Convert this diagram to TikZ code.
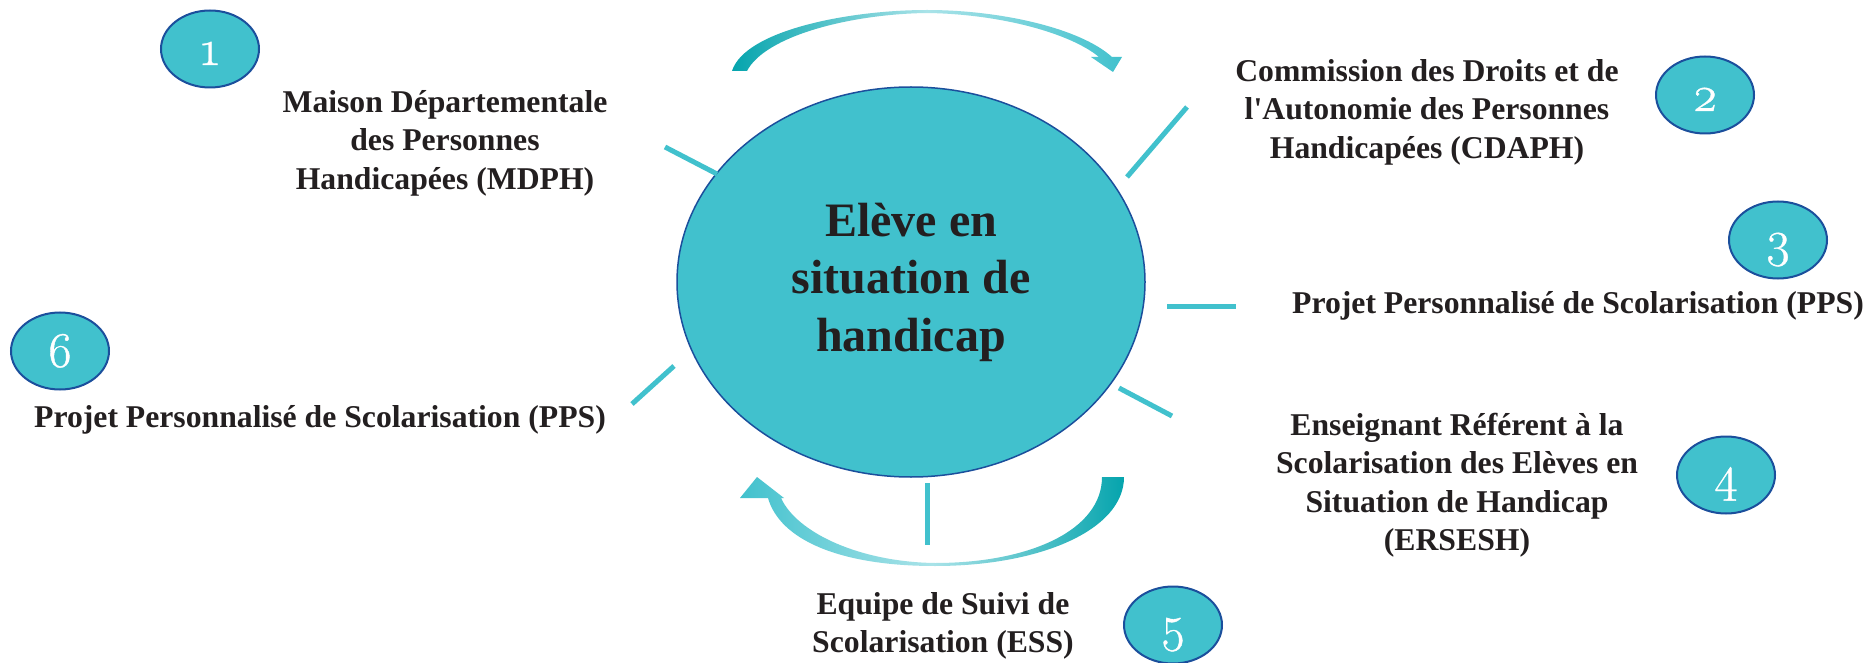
\documentclass[tikz,border=0pt]{standalone}
\usepackage{fontspec}
\setmainfont{Liberation Serif}[Ligatures=TeXOff]
\newfontfamily\numfont[Numbers=OldStyle,FakeBold=0.8]{Latin Modern Roman}
\usetikzlibrary{shapes.geometric}
\definecolor{tlight}{HTML}{41C1CD}
\definecolor{tdark}{HTML}{05A4AD}
\definecolor{bord}{HTML}{1B4F9C}
\definecolor{txt}{HTML}{231F20}
\begin{document}
\begin{tikzpicture}[x=1pt,y=-1pt,
  numbub/.style={ellipse, draw=bord, line width=2pt, fill=tlight, minimum width=98pt, minimum height=77pt,
    inner sep=0pt, text=white, font=\numfont\fontsize{50}{50}\selectfont, text height=32pt, text depth=0pt},
  lbl/.style={align=center, inner sep=0pt, text=txt, font=\bfseries\fontsize{31.7}{38.5}\selectfont},
  spoke/.style={draw=tlight, line width=5pt}
]
\fill[white] (0,0) rectangle (1872,663);
\useasboundingbox (0,0) rectangle (1872,663);

% central ellipse
\node[ellipse, draw=bord, line width=1.5pt, fill=tlight, minimum width=468pt, minimum height=390pt,
  inner sep=0pt, align=center, text=txt, font=\bfseries\fontsize{48}{57.5}\selectfont]
  (centre) at (911,282) {Elève en\\situation de\\handicap};

% number bubbles
\node[numbub] (n1) at (210,49) {1};
\node[numbub] (n2) at (1705,95) {2};
\node[numbub] (n3) at (1778,240) {3};
\node[numbub] (n4) at (1726,475) {4};
\node[numbub] (n5) at (1173,625) {5};
\node[numbub] (n6) at (60,351) {6};

% labels
\node[lbl] (l1) at (445,143) {Maison Départementale\\des Personnes\\Handicapées (MDPH)};
\node[lbl] (l2) at (1427,112) {Commission des Droits et de\\l'Autonomie des Personnes\\Handicapées (CDAPH)};
\node[lbl] (l3) at (1578,306) {Projet Personnalisé de Scolarisation (PPS)};
\node[lbl] (l4) at (1457,485) {Enseignant Référent à la\\Scolarisation des Elèves en\\Situation de Handicap\\(ERSESH)};
\node[lbl] (l5) at (943,626) {Equipe de Suivi de\\Scolarisation (ESS)};
\node[lbl] (l6) at (320,420) {Projet Personnalisé de Scolarisation (PPS)};

% spokes
\coordinate (s1a) at (665,147); \coordinate (s1b) at (717,174);
\coordinate (s2a) at (1127,177); \coordinate (s2b) at (1187,107);
\coordinate (s3a) at (1167,306); \coordinate (s3b) at (1236,306);
\coordinate (s4a) at (1119,388); \coordinate (s4b) at (1172,416);
\coordinate (s5a) at (927,483); \coordinate (s5b) at (927,545);
\coordinate (s6a) at (632,404); \coordinate (s6b) at (674,366);
\draw[spoke] (s1a) -- (s1b);
\draw[spoke] (s2a) -- (s2b);
\draw[spoke] (s3a) -- (s3b);
\draw[spoke] (s4a) -- (s4b);
\draw[spoke] (s5a) -- (s5b);
\draw[spoke] (s6a) -- (s6b);

% top curved arrow
\shade[left color=tdark, right color=tlight, middle color=tlight!45!white]
  (732,71) .. controls (745,30) and (850,10) .. (927,10)
  .. controls (1000,10) and (1080,28) .. (1112,57)
  -- (1122,57) -- (1113,72) -- (1091,57) -- (1099,57)
  .. controls (1070,33) and (1000,14) .. (927,13)
  .. controls (850,14) and (765,36) .. (747,71) -- cycle;

% bottom curved arrow
\shade[left color=tlight, right color=tdark, middle color=tlight!45!white]
  (1124,477) .. controls (1124,530) and (1040,566) .. (935,566)
  .. controls (840,566) and (780,540) .. (768,498)
  -- (740,498) -- (757,477) -- (784,498) -- (781,498)
  .. controls (797,533) and (860,562) .. (935,563)
  .. controls (1030,563) and (1102,530) .. (1102,477) -- cycle;
\end{tikzpicture}
\end{document}
